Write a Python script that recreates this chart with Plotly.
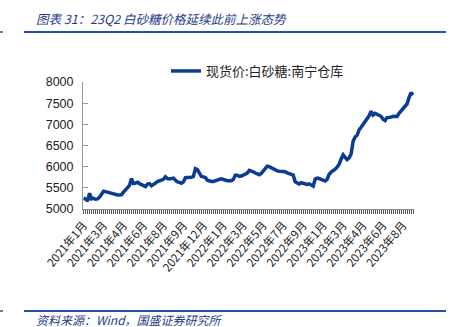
import plotly.graph_objects as go

# Month labels shown under the category axis, one every LABEL_STEP samples
tick_labels = ["2021年1月", "2021年3月", "2021年4月", "2021年6月", "2021年8月",
               "2021年9月", "2021年12月", "2022年1月", "2022年3月", "2022年5月",
               "2022年7月", "2022年9月", "2023年1月", "2023年3月", "2023年4月",
               "2023年6月", "2023年8月"]
LABEL_STEP = 10

series_name = "现货价:白砂糖:南宁仓库"

# Spot price of white sugar, Nanning warehouse (yuan/ton), sampled evenly
price = [
    5254, 5238, 5190, 5373, 5238, 5250, 5230, 5240, 5280, 5340,
    5420, 5410, 5395, 5380, 5360, 5350, 5340, 5330, 5330, 5340,
    5400, 5460, 5500, 5560, 5720, 5600, 5610, 5630, 5600, 5570,
    5540, 5530, 5590, 5600, 5550, 5570, 5610, 5650, 5660, 5690,
    5700, 5760, 5720, 5710, 5720, 5730, 5680, 5640, 5630, 5610,
    5640, 5740, 5745, 5745, 5750, 5770, 5950, 5930, 5840, 5770,
    5760, 5745, 5680, 5660, 5650, 5650, 5660, 5690, 5700, 5714,
    5700, 5670, 5667, 5667, 5667, 5700, 5800, 5800, 5770, 5780,
    5800, 5810, 5850, 5912, 5900, 5880, 5850, 5830, 5810, 5840,
    5900, 5950, 6010, 6000, 5970, 5950, 5910, 5900, 5890, 5890,
    5890, 5880, 5850, 5830, 5820, 5800, 5640, 5610, 5590, 5620,
    5600, 5580, 5580, 5595, 5560, 5540, 5710, 5730, 5720, 5700,
    5680, 5660, 5700, 5820, 5870, 5900, 5940, 5990, 6060, 6180,
    6280, 6220, 6170, 6210, 6300, 6600, 6700, 6740, 6870, 6930,
    7000, 7070, 7130, 7200, 7310, 7220, 7260, 7240, 7200, 7190,
    7120, 7090, 7160, 7160, 7170, 7190, 7190, 7185, 7260, 7320,
    7360, 7420, 7480, 7630, 7750, 7690,
]

y_ticks = [5000, 5500, 6000, 6500, 7000, 7500, 8000]

x_idx = list(range(len(price)))
tick_pos = [i * LABEL_STEP for i in range(len(tick_labels))]

W, H = 452, 327
L, R, T, B = 83, 38, 82, 118
plot_w = W - L - R
plot_h = H - T - B


def px_x(p):
    return (p - L) / plot_w


def px_y(p):
    return (H - B - p) / plot_h


TITLE_BLUE = "#1F3C88"
RULE_BLUE = "#2152A3"
LINE_BLUE = "#0A3C93"

fig = go.Figure()
fig.add_trace(go.Scatter(
    x=x_idx, y=price, mode="lines", name=series_name,
    line=dict(color=LINE_BLUE, width=3.5),
))

fig.update_layout(
    width=W, height=H,
    margin=dict(l=L, r=R, t=T, b=B),
    paper_bgcolor="white", plot_bgcolor="white",
    font=dict(family="Liberation Sans, Arial, sans-serif", color="#222"),
    showlegend=True,
    legend=dict(
        x=px_x(166), y=px_y(71), xanchor="left", yanchor="middle",
        orientation="h", bgcolor="rgba(0,0,0,0)", borderwidth=0,
        font=dict(family="Noto Sans CJK SC", size=13, color="#222"),
        itemwidth=30,
    ),
    xaxis=dict(
        range=[-0.3, len(price) - 0.5],
        tickmode="array", tickvals=tick_pos, ticktext=tick_labels,
        tickangle=-50,
        tickfont=dict(family="Noto Sans CJK SC", size=11.5, color="#222"),
        showline=True, linecolor="#888", linewidth=1,
        showgrid=False, zeroline=False,
        ticks="outside", ticklen=4, tickcolor="#555", tickwidth=1,
        minor=dict(tickmode="linear", tick0=0, dtick=1, ticks="outside",
                   ticklen=4, tickcolor="#555", tickwidth=1, showgrid=False),
    ),
    yaxis=dict(
        range=[5000, 8000],
        tickmode="array", tickvals=y_ticks,
        tickfont=dict(family="Liberation Sans, Arial", size=12.5, color="#222"),
        showline=True, linecolor="#999", linewidth=1,
        showgrid=False, zeroline=False,
        ticks="inside", ticklen=5, tickcolor="#999",
        ticklabelstandoff=6,
    ),
)

# Report header / footer rules
for py in (32, 311):
    fig.add_shape(type="line", xref="paper", yref="paper",
                  x0=px_x(24), x1=px_x(446), y0=px_y(py), y1=px_y(py),
                  line=dict(color=RULE_BLUE, width=2))
    fig.add_shape(type="line", xref="paper", yref="paper",
                  x0=px_x(0), x1=px_x(3), y0=px_y(py), y1=px_y(py),
                  line=dict(color=RULE_BLUE, width=1.5))

fig.add_annotation(
    text="<i>图表 31：23Q2 白砂糖价格延续此前上涨态势</i>",
    xref="paper", yref="paper", x=px_x(34), y=px_y(18),
    xanchor="left", yanchor="middle", showarrow=False,
    font=dict(family="Noto Sans CJK SC", size=12.5, color=TITLE_BLUE),
)
fig.add_annotation(
    text="<i>资料来源：Wind，国盛证券研究所</i>",
    xref="paper", yref="paper", x=px_x(34), y=px_y(319),
    xanchor="left", yanchor="middle", showarrow=False,
    font=dict(family="Noto Sans CJK SC", size=12, color=TITLE_BLUE),
)

fig.write_html("out.html")
